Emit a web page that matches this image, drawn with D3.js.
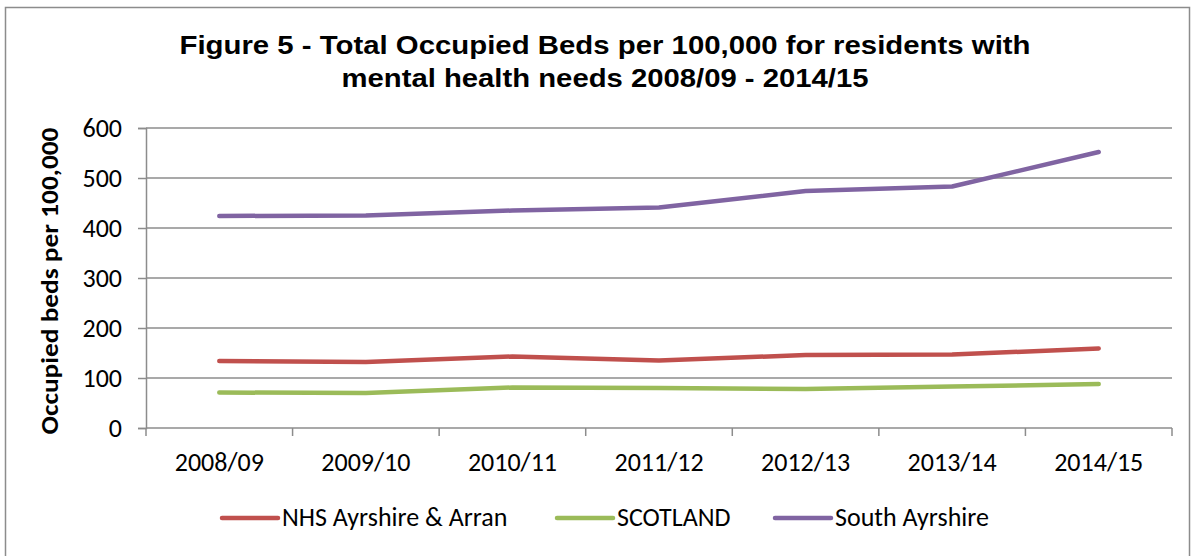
<!DOCTYPE html>
<html>
<head>
<meta charset="utf-8">
<script src="https://cdn.jsdelivr.net/npm/d3@7"></script>
<style>
  body { margin: 0; background: #fff; }
  svg { display: block; }
</style>
</head>
<body>
<div id="chart"></div>
<script>
// data
const years = ['2008/09', '2009/10', '2010/11', '2011/12', '2012/13', '2013/14', '2014/15'];
const nhsAyrshire = [134, 132, 143, 135, 146, 147, 159];
const scotland = [71, 70, 81, 80, 78, 83, 88];
const southAyrshire = [424, 425, 435, 441, 474, 483, 552];
const yTicks = [0, 100, 200, 300, 400, 500, 600];

const series = [
  { name: 'NHS Ayrshire & Arran', values: nhsAyrshire, color: '#C0504D' },
  { name: 'SCOTLAND', values: scotland, color: '#9BBB59' },
  { name: 'South Ayrshire', values: southAyrshire, color: '#8064A2' },
];

const width = 1195;
const height = 556;
const plot = { left: 146, right: 1172, top: 128, bottom: 428 };
const labelFont = "Carlito, Calibri, 'Liberation Sans Narrow', 'Open Sans', sans-serif";
const gridColor = '#8c8c8c';

const svg = d3.select('#chart')
  .append('svg')
  .attr('width', width)
  .attr('height', height);

// outer chart border
svg.append('rect')
  .attr('x', 5.5).attr('y', 7.5)
  .attr('width', 1184).attr('height', 560)
  .attr('fill', '#fff')
  .attr('stroke', gridColor)
  .attr('stroke-width', 1.5);

// title (reference is stretched wide, so fit to its measured width)
const title = svg.append('text')
  .attr('text-anchor', 'middle')
  .style('font-family', "'Liberation Sans', Arial, Helvetica, sans-serif")
  .style('font-weight', 'bold')
  .style('font-size', '25px')
  .attr('fill', '#000');
title.append('tspan').attr('x', 605).attr('y', 54)
  .attr('textLength', 851).attr('lengthAdjust', 'spacingAndGlyphs')
  .text('Figure 5 - Total Occupied Beds per 100,000 for residents with');
title.append('tspan').attr('x', 605).attr('y', 87)
  .attr('textLength', 527).attr('lengthAdjust', 'spacingAndGlyphs')
  .text('mental health needs 2008/09 - 2014/15');

const x = d3.scaleBand()
  .domain(years)
  .range([plot.left, plot.right]);

const y = d3.scaleLinear()
  .domain([0, 600])
  .range([plot.bottom, plot.top]);

// gridlines
svg.append('g')
  .selectAll('line')
  .data(yTicks.filter(d => d > 0))
  .enter()
  .append('line')
  .attr('x1', plot.left)
  .attr('x2', plot.right)
  .attr('y1', d => y(d))
  .attr('y2', d => y(d))
  .style('stroke', gridColor)
  .style('stroke-width', '1.5px');

// y axis
const yAxis = svg.append('g')
  .attr('transform', `translate(${plot.left},0)`)
  .call(d3.axisLeft(y).tickValues(yTicks).tickSize(8).tickPadding(16));
yAxis.selectAll('text')
  .style('font-family', labelFont)
  .style('font-size', '26px')
  .attr('fill', '#000');
yAxis.selectAll('.domain, .tick line')
  .style('stroke', gridColor)
  .style('stroke-width', '1.5px');

// x axis, ticks between categories
const xAxis = svg.append('g')
  .attr('transform', `translate(0,${plot.bottom})`)
  .call(d3.axisBottom(x).tickSize(0).tickPadding(25));
xAxis.select('.domain').remove();
xAxis.selectAll('text')
  .style('font-family', labelFont)
  .style('font-size', '26px')
  .attr('fill', '#000');
svg.append('line')
  .attr('x1', plot.left).attr('x2', plot.right)
  .attr('y1', plot.bottom).attr('y2', plot.bottom)
  .style('stroke', gridColor).style('stroke-width', '1.5px');
svg.append('g')
  .selectAll('line')
  .data(years.map(d => x(d)).concat([plot.right]))
  .enter()
  .append('line')
  .attr('x1', d => d).attr('x2', d => d)
  .attr('y1', plot.bottom).attr('y2', plot.bottom + 8)
  .style('stroke', gridColor).style('stroke-width', '1.5px');

// y axis title
svg.append('text')
  .attr('transform', 'translate(58,281) rotate(-90)')
  .attr('text-anchor', 'middle')
  .attr('textLength', 307)
  .attr('lengthAdjust', 'spacingAndGlyphs')
  .style('font-family', labelFont)
  .style('font-weight', 'bold')
  .style('font-size', '25px')
  .text('Occupied beds per 100,000');

// lines
const line = d3.line()
  .x((d, i) => x(years[i]) + x.bandwidth() / 2)
  .y(d => y(d));

svg.append('g')
  .selectAll('path')
  .data(series)
  .enter()
  .append('path')
  .attr('d', d => line(d.values))
  .attr('fill', 'none')
  .attr('stroke', d => d.color)
  .attr('stroke-width', 4.5)
  .attr('stroke-linecap', 'round')
  .attr('stroke-linejoin', 'round');

// legend
const legendX = [222, 557, 775];
const legend = svg.append('g')
  .selectAll('g')
  .data(series)
  .enter()
  .append('g')
  .attr('transform', (d, i) => `translate(${legendX[i]},518)`);
legend.append('line')
  .attr('x1', 0).attr('x2', 56)
  .attr('stroke', d => d.color)
  .attr('stroke-width', 4.5)
  .attr('stroke-linecap', 'round');
legend.append('text')
  .attr('x', 60)
  .attr('y', 8)
  .style('font-family', labelFont)
  .style('font-size', '26px')
  .text(d => d.name);
</script>
</body>
</html>
